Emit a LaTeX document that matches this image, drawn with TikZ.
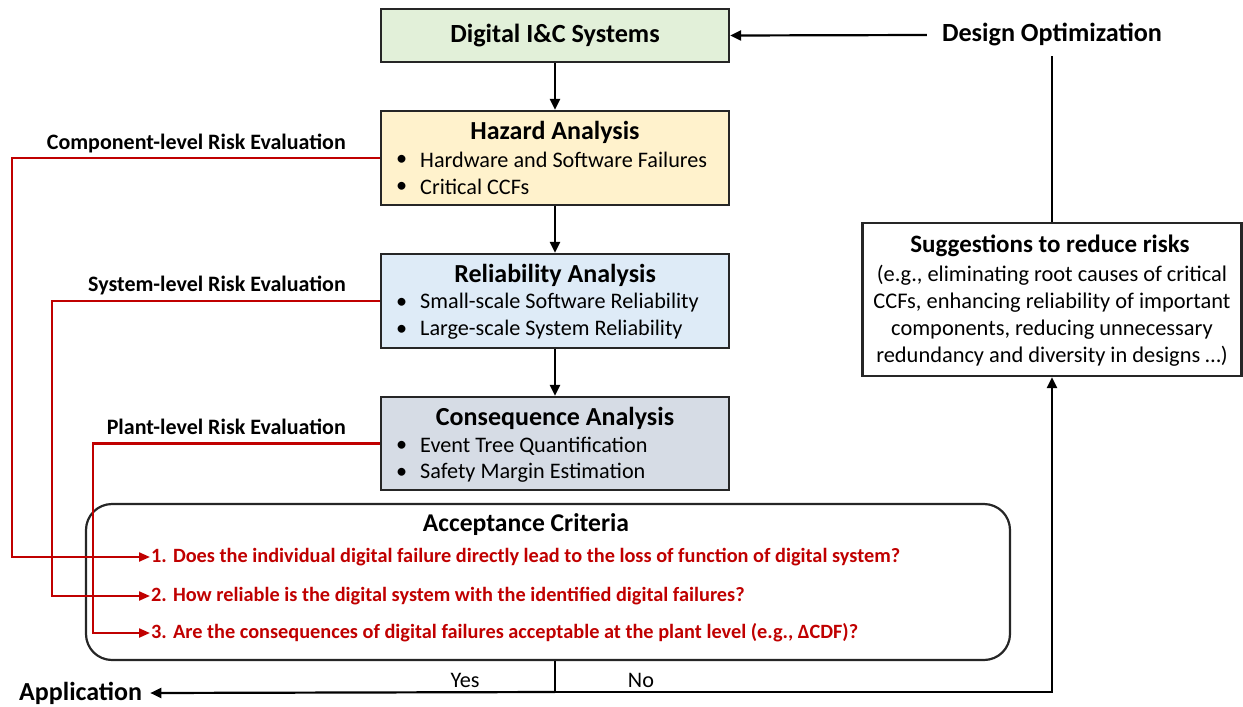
\documentclass[tikz,border=0pt]{standalone}
\usepackage{fontspec}
\setmainfont{Carlito}
\usetikzlibrary{arrows.meta}
\definecolor{cgreen}{HTML}{E2F0D9}
\definecolor{cyellow}{HTML}{FFF2CC}
\definecolor{cblue}{HTML}{DEEBF7}
\definecolor{cgray}{HTML}{D6DCE5}
\definecolor{cred}{HTML}{C00000}
\begin{document}
\begin{tikzpicture}[x=1pt,y=-1pt,
  box/.style={draw=black!85, line width=2.2pt, rectangle, inner sep=0pt},
  conn/.style={draw=black, line width=2.2pt, -{Triangle[length=11pt,width=10pt]}},
  plainline/.style={draw=black, line width=2.2pt},
  rconn/.style={draw=cred, line width=2.2pt, -{Triangle[length=11pt,width=9pt]}},
  ttl/.style={font=\fontsize{26}{30}\selectfont\bfseries, inner sep=1pt},
  body/.style={font=\fontsize{22.2}{26}\selectfont, inner sep=1pt, anchor=west},
  lbl/.style={font=\fontsize{22}{26}\selectfont\bfseries, inner sep=1pt, anchor=east},
  crit/.style={font=\fontsize{20.3}{24}\selectfont\bfseries, text=cred, inner sep=1pt, anchor=west},
  sug/.style={font=\fontsize{22.4}{27}\selectfont, align=center, inner sep=1pt}
]
\useasboundingbox (0,0) rectangle (1243,707);

% main boxes
\node[box, fill=cgreen, minimum width=348pt, minimum height=53pt, font=\fontsize{26.2}{30}\selectfont\bfseries] (dic) at (555,35.5) {Digital I\&C Systems};
\node[box, fill=cyellow, minimum width=348pt, minimum height=94pt] (haz) at (555,158) {};
\node[box, fill=cblue, minimum width=348pt, minimum height=94pt] (rel) at (555,301) {};
\node[box, fill=cgray, minimum width=348pt, minimum height=93pt] (con) at (555,443.5) {};

\node[ttl] (hazt) at (555,132) {Hazard Analysis};
\node[body] (hazb0) at (395,160) {•};
\node[body] (hazb1) at (419,160) {Hardware and Software Failures};
\node[body] (hazb2) at (395,187) {•};
\node[body] (hazb3) at (419,187) {Critical CCFs};

\node[ttl] (relt) at (555,275) {Reliability Analysis};
\node[body] (relb0) at (395,303) {•};
\node[body] (relb1) at (419,303) {Small-scale Software Reliability};
\node[body] (relb2) at (395,330) {•};
\node[body] (relb3) at (419,330) {Large-scale System Reliability};

\node[ttl] (cont) at (555,418) {Consequence Analysis};
\node[body] (conb0) at (395,446) {•};
\node[body] (conb1) at (419,446) {Event Tree Quantification};
\node[body] (conb2) at (395,473) {•};
\node[body] (conb3) at (419,473) {Safety Margin Estimation};

% acceptance criteria
\node[box, rounded corners=26pt, minimum width=924pt, minimum height=156pt] (acc) at (548,582) {};
\node[ttl, font=\fontsize{25.6}{30}\selectfont\bfseries] (acct) at (526,525) {Acceptance Criteria};
\node[crit] (it1) at (150,557) {1. Does the individual digital failure directly lead to the loss of function of digital system?};
\node[crit] (it2) at (150,596) {2. How reliable is the digital system with the identified digital failures?};
\node[crit] (it3) at (150,633) {3. Are the consequences of digital failures acceptable at the plant level (e.g., ΔCDF)?};

% suggestions
\node[box, minimum width=379pt, minimum height=153pt] (sugg) at (1052,299.5) {};
\node[ttl, font=\fontsize{25}{30}\selectfont\bfseries] (sugt) at (1050,246) {Suggestions to reduce risks};
\node[sug] (sugb) at (1052,315.5) {(e.g., eliminating root causes of critical\\CCFs, enhancing reliability of important\\components, reducing unnecessary\\redundancy and diversity in designs …)};

\node[ttl, font=\fontsize{26.2}{30}\selectfont\bfseries] (dopt) at (1052,35) {Design Optimization};
\node[ttl, font=\fontsize{26}{30}\selectfont\bfseries, anchor=west] (app) at (18,693) {Application};
\node[body, anchor=center] (yes) at (465,680) {Yes};
\node[body, anchor=center] (no) at (641,680) {No};

% left labels
\node[lbl] (l1) at (347,143) {Component-level Risk Evaluation};
\node[lbl] (l2) at (347,285) {System-level Risk Evaluation};
\node[lbl] (l3) at (347,427) {Plant-level Risk Evaluation};

% black connectors
\draw[conn] (dic) -- (haz);
\draw[conn] (haz) -- (rel);
\draw[conn] (rel) -- (con);
\draw[conn] ([xshift=-14pt]dopt.west) -- (dic.east);
\draw[plainline] (sugg.north) -- ([yshift=-8pt]sugg.north |- dopt.south);

\coordinate (bot) at (555,692);
\draw[plainline] (acc.south -| bot) -- (bot);
\draw[conn] (bot) -- ([xshift=7pt]app.east);
\draw[conn] (bot) -| (sugg.south);

% red connectors
\draw[rconn] (haz.west) -- (12,158) |- (it1.west);
\draw[rconn] (rel.west) -- (52,301) |- (it2.west);
\draw[rconn] (con.west) -- (93,443.5) |- (it3.west);
\end{tikzpicture}
\end{document}
